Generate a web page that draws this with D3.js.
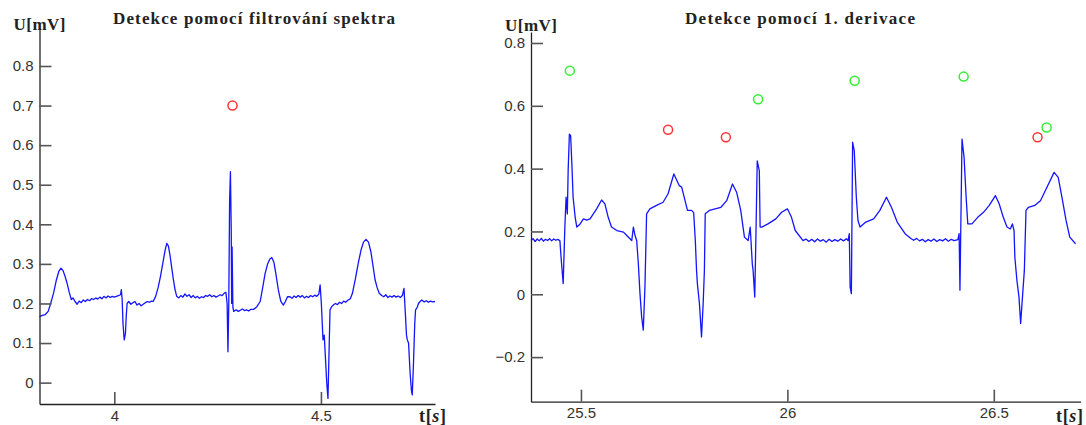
<!DOCTYPE html>
<html>
<head>
<meta charset="utf-8">
<script src="https://cdn.jsdelivr.net/npm/d3@7"></script>
<style>
  body { margin: 0; background: #fff; }
  .tick text { font-family: "Liberation Sans", Arial, sans-serif; font-size: 15px; fill: #333; }
  .lbl { font-family: "Liberation Serif", "Times New Roman", serif; font-weight: bold; fill: #222; }
</style>
</head>
<body>
<div id="chart-area"></div>
<script>
/* ECG detection - two panels */

// left panel: [t (s), U (mV)]
var leftSignal = [
  [3.819,0.167],[3.826,0.170],[3.833,0.172],[3.840,0.180],[3.846,0.200],[3.853,0.226],
  [3.860,0.260],[3.866,0.282],[3.871,0.289],[3.876,0.283],[3.881,0.268],[3.886,0.250],
  [3.891,0.228],[3.896,0.210],[3.900,0.214],[3.905,0.205],[3.910,0.198],[3.915,0.206],
  [3.920,0.202],[3.925,0.209],[3.930,0.205],[3.935,0.210],[3.940,0.207],[3.945,0.212],
  [3.950,0.210],[3.955,0.214],[3.960,0.211],[3.965,0.216],[3.970,0.212],[3.975,0.218],
  [3.980,0.214],[3.985,0.219],[3.990,0.215],[3.995,0.218],[4.000,0.216],[4.005,0.218],
  [4.010,0.220],[4.015,0.222],[4.017,0.235],[4.019,0.210],[4.021,0.150],[4.024,0.108],
  [4.027,0.125],[4.029,0.170],[4.031,0.200],[4.035,0.205],[4.040,0.198],[4.045,0.202],
  [4.050,0.205],[4.055,0.196],[4.060,0.200],[4.065,0.194],[4.070,0.198],[4.075,0.202],
  [4.080,0.205],[4.085,0.203],[4.090,0.206],[4.094,0.205],[4.100,0.218],[4.106,0.240],
  [4.112,0.270],[4.118,0.305],[4.123,0.335],[4.127,0.352],[4.131,0.345],[4.135,0.320],
  [4.139,0.290],[4.143,0.260],[4.147,0.235],[4.151,0.218],[4.156,0.214],[4.161,0.220],
  [4.166,0.216],[4.171,0.224],[4.176,0.218],[4.181,0.222],[4.186,0.215],[4.191,0.220],
  [4.196,0.214],[4.201,0.218],[4.206,0.213],[4.211,0.217],[4.216,0.215],[4.221,0.220],
  [4.226,0.218],[4.231,0.222],[4.236,0.217],[4.241,0.220],[4.246,0.216],[4.251,0.219],
  [4.256,0.222],[4.261,0.220],[4.266,0.226],[4.270,0.228],[4.273,0.200],[4.275,0.078],
  [4.277,0.200],[4.279,0.460],[4.281,0.533],[4.283,0.380],[4.284,0.200],[4.285,0.343],
  [4.287,0.190],[4.289,0.180],[4.295,0.184],[4.300,0.180],[4.305,0.183],[4.310,0.186],
  [4.315,0.182],[4.320,0.184],[4.325,0.181],[4.330,0.185],[4.337,0.185],[4.345,0.192],
  [4.353,0.205],[4.359,0.240],[4.365,0.276],[4.371,0.300],[4.376,0.312],[4.381,0.316],
  [4.386,0.305],[4.391,0.275],[4.397,0.234],[4.403,0.205],[4.409,0.196],[4.414,0.205],
  [4.419,0.217],[4.425,0.217],[4.430,0.213],[4.435,0.219],[4.440,0.215],[4.445,0.220],
  [4.450,0.216],[4.455,0.220],[4.460,0.214],[4.465,0.218],[4.470,0.215],[4.475,0.220],
  [4.480,0.217],[4.485,0.221],[4.490,0.218],[4.495,0.224],[4.498,0.247],[4.501,0.200],
  [4.505,0.108],[4.508,0.120],[4.511,0.060],[4.514,0.000],[4.517,-0.040],[4.519,0.050],
  [4.522,0.184],[4.526,0.192],[4.530,0.196],[4.535,0.200],[4.540,0.197],[4.545,0.203],
  [4.550,0.200],[4.555,0.206],[4.560,0.203],[4.565,0.208],[4.571,0.212],[4.576,0.225],
  [4.583,0.260],[4.590,0.300],[4.597,0.335],[4.603,0.355],[4.609,0.362],[4.615,0.355],
  [4.621,0.330],[4.626,0.295],[4.631,0.260],[4.636,0.240],[4.641,0.226],[4.647,0.220],
  [4.652,0.217],[4.657,0.222],[4.662,0.215],[4.667,0.219],[4.672,0.216],[4.677,0.220],
  [4.682,0.216],[4.687,0.219],[4.692,0.215],[4.697,0.220],[4.701,0.238],[4.704,0.180],
  [4.707,0.120],[4.709,0.108],[4.712,0.100],[4.716,0.020],[4.719,-0.020],[4.721,-0.031],
  [4.724,0.050],[4.727,0.150],[4.729,0.184],[4.733,0.190],[4.736,0.200],[4.740,0.205],
  [4.744,0.209],[4.750,0.204],[4.755,0.207],[4.760,0.203],[4.765,0.206],[4.770,0.204],
  [4.776,0.205]
];
var leftRed = [[4.286, 0.70]];
var leftXTicks = [4, 4.5];
var leftYTicks = [0, 0.1, 0.2, 0.3, 0.4, 0.5, 0.6, 0.7, 0.8];

// right panel
var rightSignal = [
  [25.379,0.171],[25.384,0.177],[25.389,0.168],[25.394,0.176],[25.399,0.170],[25.404,0.178],
  [25.409,0.169],[25.414,0.175],[25.419,0.171],[25.424,0.177],[25.429,0.170],[25.434,0.176],
  [25.439,0.172],[25.444,0.175],[25.449,0.170],[25.453,0.097],[25.457,0.034],[25.461,0.214],
  [25.464,0.309],[25.467,0.256],[25.469,0.394],[25.472,0.510],[25.475,0.505],[25.478,0.415],
  [25.481,0.309],[25.486,0.245],[25.490,0.214],[25.498,0.224],[25.506,0.240],[25.514,0.236],
  [25.522,0.240],[25.530,0.256],[25.538,0.272],[25.550,0.300],[25.558,0.288],[25.566,0.245],
  [25.574,0.214],[25.587,0.203],[25.603,0.198],[25.611,0.187],[25.623,0.171],[25.627,0.214],
  [25.631,0.187],[25.635,0.171],[25.639,0.097],[25.643,0.002],[25.647,-0.072],[25.651,-0.114],
  [25.655,0.023],[25.659,0.256],[25.667,0.272],[25.683,0.283],[25.699,0.293],[25.711,0.320],
  [25.725,0.383],[25.738,0.346],[25.744,0.341],[25.758,0.267],[25.768,0.267],[25.773,0.260],
  [25.777,0.171],[25.780,0.076],[25.782,0.034],[25.787,-0.030],[25.792,-0.136],[25.796,-0.030],
  [25.799,0.076],[25.801,0.256],[25.811,0.267],[25.839,0.277],[25.853,0.298],[25.867,0.351],
  [25.877,0.325],[25.887,0.267],[25.896,0.182],[25.905,0.171],[25.910,0.214],[25.915,0.097],
  [25.917,0.076],[25.921,-0.009],[25.924,0.200],[25.927,0.425],[25.932,0.394],[25.934,0.214],
  [25.938,0.214],[25.953,0.224],[25.972,0.240],[25.986,0.261],[26.000,0.272],[26.010,0.245],
  [26.019,0.203],[26.038,0.171],[26.045,0.176],[26.052,0.168],[26.059,0.175],[26.066,0.167],
  [26.073,0.176],[26.080,0.169],[26.087,0.174],[26.094,0.166],[26.101,0.175],[26.108,0.168],
  [26.115,0.174],[26.122,0.169],[26.129,0.176],[26.136,0.170],[26.143,0.177],[26.147,0.171],
  [26.150,0.193],[26.152,0.023],[26.155,0.002],[26.158,0.484],[26.162,0.457],[26.167,0.309],
  [26.171,0.235],[26.176,0.214],[26.190,0.230],[26.209,0.240],[26.224,0.267],[26.240,0.309],
  [26.252,0.277],[26.266,0.230],[26.285,0.193],[26.300,0.177],[26.306,0.172],[26.313,0.178],
  [26.320,0.170],[26.327,0.175],[26.334,0.167],[26.341,0.174],[26.348,0.169],[26.355,0.176],
  [26.362,0.168],[26.369,0.174],[26.376,0.170],[26.383,0.177],[26.390,0.169],[26.397,0.175],
  [26.404,0.171],[26.413,0.174],[26.416,0.193],[26.418,0.013],[26.423,0.494],[26.428,0.436],
  [26.433,0.309],[26.437,0.224],[26.447,0.224],[26.461,0.245],[26.475,0.261],[26.489,0.283],
  [26.504,0.314],[26.513,0.288],[26.523,0.245],[26.532,0.214],[26.540,0.208],[26.545,0.224],
  [26.549,0.203],[26.551,0.118],[26.556,0.044],[26.561,-0.009],[26.565,-0.093],[26.570,0.002],
  [26.574,0.076],[26.578,0.267],[26.584,0.277],[26.599,0.283],[26.613,0.298],[26.627,0.336],
  [26.646,0.388],[26.656,0.372],[26.665,0.309],[26.675,0.235],[26.684,0.182],[26.698,0.161]
];
var rightRed = [[25.711, 0.524], [25.851, 0.500], [26.606, 0.500]];
var rightGreen = [[25.473, 0.712], [25.929, 0.621], [26.163, 0.680], [26.427, 0.693], [26.628, 0.531]];
var rightXTicks = [25.5, 26, 26.5];
var rightYTicks = [-0.2, 0, 0.2, 0.4, 0.6, 0.8];

var svg = d3.select("#chart-area")
    .append("svg")
    .attr("width", 1086)
    .attr("height", 425);

function panel(opt) {
    var x = d3.scaleLinear().domain(opt.xDomain).range([opt.left, opt.right]);
    var y = d3.scaleLinear().domain(opt.yDomain).range([opt.bottom, opt.top]);

    var g = svg.append("g");

    // signal
    var line = d3.line()
        .x(function(d) { return x(d[0]); })
        .y(function(d) { return y(d[1]); });
    g.append("path")
        .datum(opt.signal)
        .attr("fill", "none")
        .attr("stroke", "#1414ff")
        .attr("stroke-width", 1.3)
        .attr("stroke-linejoin", "round")
        .attr("d", line);

    // axes (ticks point inward)
    var xAxis = g.append("g")
        .attr("transform", "translate(0," + opt.bottom + ")")
        .call(d3.axisBottom(x).tickValues(opt.xTicks)
            .tickSizeInner(-12).tickSizeOuter(0).tickPadding(6)
            .tickFormat(d3.format("")));
    var yAxis = g.append("g")
        .attr("transform", "translate(" + opt.left + ",0)")
        .call(d3.axisLeft(y).tickValues(opt.yTicks)
            .tickSizeInner(-12).tickSizeOuter(0).tickPadding(6)
            .tickFormat(d3.format("")));
    [xAxis, yAxis].forEach(function(a) {
        a.select(".domain").attr("stroke", "#222").attr("stroke-width", 1.3);
        a.selectAll(".tick line").attr("stroke", "#555").attr("stroke-width", 1.6);
    });

    // detections
    opt.markers.forEach(function(m) {
        g.selectAll(null)
            .data(m.data)
            .enter()
            .append("circle")
            .attr("cx", function(d) { return x(d[0]); })
            .attr("cy", function(d) { return y(d[1]); })
            .attr("r", 4.5)
            .attr("fill", "none")
            .attr("stroke", m.color)
            .attr("stroke-width", 1.5);
    });

    // labels
    g.append("text").attr("class", "lbl")
        .attr("x", opt.titleX).attr("y", 24)
        .attr("text-anchor", "middle")
        .attr("font-size", 17)
        .attr("textLength", opt.titleW).attr("lengthAdjust", "spacing")
        .text(opt.title);
    g.append("text").attr("class", "lbl")
        .attr("x", opt.left).attr("y", opt.uY)
        .attr("text-anchor", "middle")
        .attr("font-size", 17)
        .attr("textLength", 52).attr("lengthAdjust", "spacing")
        .text("U[mV]");
    var t = g.append("text").attr("class", "lbl")
        .attr("x", opt.tX).attr("y", 422)
        .attr("font-size", 18)
        .attr("textLength", 27).attr("lengthAdjust", "spacing");
    t.append("tspan").text("t[");
    t.append("tspan").attr("font-style", "italic").text("s");
    t.append("tspan").text("]");
}

panel({
    signal: leftSignal,
    xDomain: [3.819, 4.776], yDomain: [-0.054, 0.896],
    left: 39.5, right: 435, top: 28, bottom: 404,
    xTicks: leftXTicks, yTicks: leftYTicks,
    markers: [{ data: leftRed, color: "#ff3333" }],
    title: "Detekce pomocí filtrování spektra", titleX: 254, titleW: 282,
    uY: 30, tX: 419
});

panel({
    signal: rightSignal,
    xDomain: [25.379, 26.71], yDomain: [-0.342, 0.835],
    left: 531, right: 1080.5, top: 32, bottom: 401.7,
    xTicks: rightXTicks, yTicks: rightYTicks,
    markers: [{ data: rightRed, color: "#ff3333" }, { data: rightGreen, color: "#33ee33" }],
    title: "Detekce pomocí 1. derivace", titleX: 800, titleW: 230,
    uY: 31, tX: 1056
});
</script>
</body>
</html>
